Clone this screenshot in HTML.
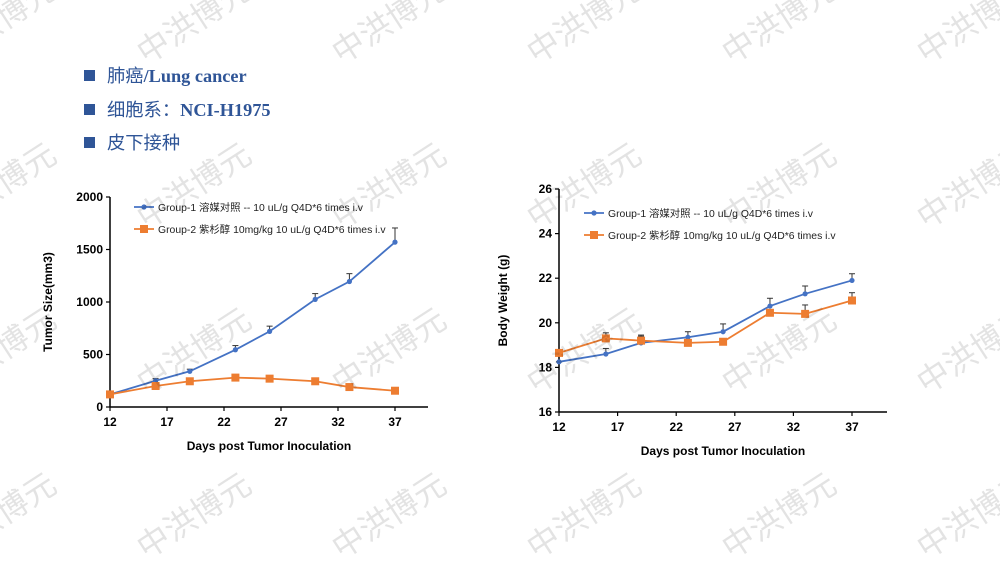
<!DOCTYPE html>
<html><head><meta charset="utf-8"><style>
html,body{margin:0;padding:0;background:#fff;}
body{width:1000px;height:562px;position:relative;overflow:hidden;font-family:"Liberation Sans",sans-serif;}
.b{position:absolute;left:84px;color:#2f5597;font-size:18.3px;font-family:"Liberation Serif","Noto Serif CJK SC",serif;font-weight:bold;}
.b span.sq{display:inline-block;width:11px;height:11px;background:#2f5597;margin-right:12px;vertical-align:1px;}
.b .cj{font-family:"Noto Sans CJK SC",sans-serif;font-weight:normal;}
svg{position:absolute;left:0;top:0;}
</style></head><body>
<div class="b" style="top:62px"><span class="sq"></span><span class="cj">肺癌</span>/Lung cancer</div>
<div class="b" style="top:96px"><span class="sq"></span><span class="cj">细胞系：</span>NCI-H1975</div>
<div class="b" style="top:129px"><span class="sq"></span><span class="cj">皮下接种</span></div>
<svg id="s" width="1000" height="562" xmlns="http://www.w3.org/2000/svg"></svg>
<script>
var s=document.getElementById('s'),h='';
function L(x1,y1,x2,y2,c,w){h+='<line x1="'+x1+'" y1="'+y1+'" x2="'+x2+'" y2="'+y2+'" stroke="'+c+'" stroke-width="'+(w||1.5)+'"/>';}
function T(x,y,t,o){h+='<text x="'+x+'" y="'+y+'" '+(o||'')+'>'+t+'</text>';}
var days=[12,16,19,23,26,30,33,37];
function chart(c){
  var X=function(d){return c.x0+(d-12)*(c.x1-c.x0)/25},Y=function(v){return c.yb+(v-c.vmin)*(c.yt-c.yb)/(c.vmax-c.vmin)};
  L(c.x0,c.yt,c.x0,c.yb,'#000',1.5);L(c.x0,c.yb,c.xe,c.yb,'#000',1.5);
  c.yt_.forEach(function(v){var y=Y(v);L(c.x0-4,y,c.x0,y,'#000',1.2);T(c.x0-7,y+4,v,'text-anchor="end" font-size="12" font-weight="bold"');});
  [12,17,22,27,32,37].forEach(function(d){var x=X(d);L(x,c.yb,x,c.yb+4,'#000',1.2);T(x,c.yb+19,d,'text-anchor="middle" font-size="12" font-weight="bold"');});
  T((c.x0+c.xe)/2,c.yb+43,'Days post Tumor Inoculation','text-anchor="middle" font-size="12" font-weight="bold"');
  T(0,0,c.yl,'transform="translate('+(c.x0-c.ylo)+','+((c.yt+c.yb)/2)+') rotate(-90)" text-anchor="middle" font-size="12" font-weight="bold"');
  [[c.b,c.be,'#4472c4',0],[c.o,c.oe,'#ed7d31',1]].forEach(function(g){
    var p=g[0].map(function(v,i){return X(days[i])+','+Y(v)}).join(' ');
    g[0].forEach(function(v,i){var x=X(days[i]),y=Y(v),y2=Y(v+g[1][i]);L(x,y,x,y2,'#333',1);L(x-3,y2,x+3,y2,'#333',1);});
    h+='<polyline points="'+p+'" fill="none" stroke="'+g[2]+'" stroke-width="1.8"/>';
    g[0].forEach(function(v,i){var x=X(days[i]),y=Y(v);
      if(g[3])h+='<rect x="'+(x-4)+'" y="'+(y-4)+'" width="8" height="8" fill="'+g[2]+'"/>';
      else h+='<circle cx="'+x+'" cy="'+y+'" r="2.6" fill="'+g[2]+'"/>';});
  });
  var lx=c.lx,ly=c.ly;
  L(lx,ly,lx+20,ly,'#4472c4',1.8);h+='<circle cx="'+(lx+10)+'" cy="'+ly+'" r="2.6" fill="#4472c4"/>';
  T(lx+24,ly+4,'Group-1 <tspan font-family="Noto Sans CJK SC">溶媒对照</tspan> -- 10 uL/g Q4D*6 times i.v','font-size="10.4" fill="#222"');
  L(lx,ly+22,lx+20,ly+22,'#ed7d31',1.8);h+='<rect x="'+(lx+6)+'" y="'+(ly+18)+'" width="8" height="8" fill="#ed7d31"/>';
  T(lx+24,ly+26,'Group-2 <tspan font-family="Noto Sans CJK SC">紫杉醇</tspan> 10mg/kg 10 uL/g Q4D*6 times i.v','font-size="10.4" fill="#222"');
}
chart({x0:110,x1:395,xe:428,yt:197,yb:407,vmin:0,vmax:2000,yt_:[0,500,1000,1500,2000],yl:'Tumor Size(mm3)',ylo:58,
 b:[120,250,340,545,720,1025,1195,1570],be:[0,20,20,40,50,55,75,135],
 o:[120,200,245,280,270,245,190,155],oe:[0,10,10,15,15,20,15,5],lx:134,ly:207});
chart({x0:559,x1:852,xe:887,yt:189,yb:412,vmin:16,vmax:26,yt_:[16,18,20,22,24,26],yl:'Body Weight (g)',ylo:52,
 b:[18.25,18.6,19.1,19.35,19.6,20.75,21.3,21.9],be:[0,0.25,0.3,0.25,0.35,0.35,0.35,0.3],
 o:[18.65,19.3,19.2,19.1,19.15,20.45,20.4,21.0],oe:[0,0.25,0.25,0,0,0,0.4,0.35],lx:584,ly:213});
var w='';
[30,195,360,525].forEach(function(y){for(var i=0;i<6;i++){var x=5+195*i;
 w+='<text x="'+x+'" y="'+y+'" transform="rotate(-33 '+x+' '+y+')" text-anchor="middle" font-family="Noto Sans CJK SC" font-size="32" fill="#000" fill-opacity="0.11">中洪博元</text>';}});
s.innerHTML=h+w;
</script>
</body></html>
